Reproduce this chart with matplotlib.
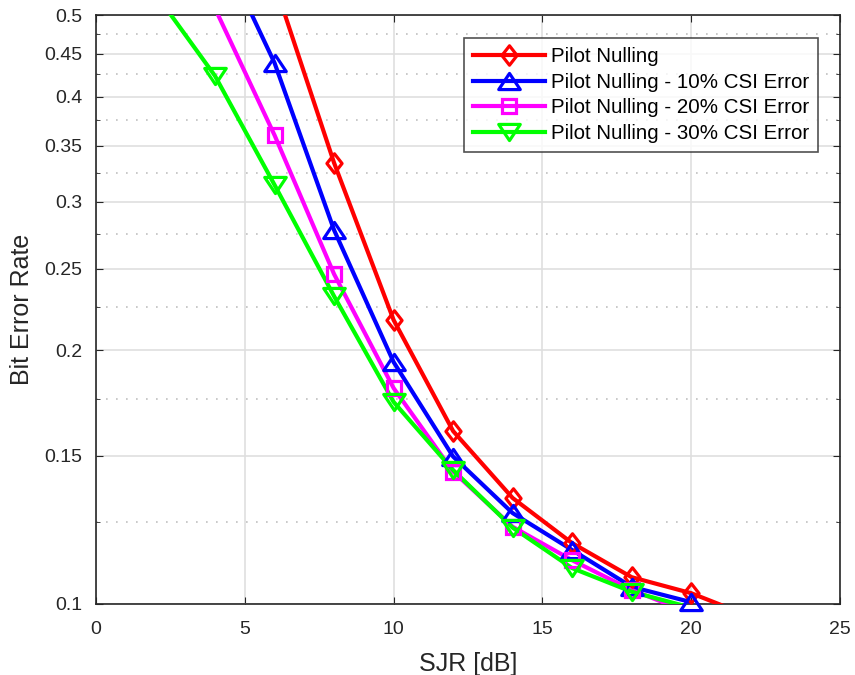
import matplotlib
matplotlib.use("Agg")
import matplotlib.pyplot as plt
from matplotlib.lines import Line2D
from matplotlib.path import Path
from matplotlib.ticker import FixedLocator, FixedFormatter, NullFormatter

plt.rcParams['font.family'] = ['Liberation Sans', 'DejaVu Sans']

sjr = [2, 4, 6, 8, 10, 12, 14, 16, 18, 20, 22]
ber_pn = [None, None, 0.545, 0.3338, 0.2173, 0.1604, 0.1336, 0.1181, 0.1076, 0.1030, 0.0966]
ber_10 = [None, 0.619, 0.4386, 0.2778, 0.1937, 0.1496, 0.1282, 0.1159, 0.1048, 0.1005, None]
ber_20 = [None, 0.509, 0.360, 0.2463, 0.1804, 0.1436, 0.1235, 0.1127, 0.1039, 0.0975, None]
ber_30 = [0.530, 0.4233, 0.3143, 0.2319, 0.1737, 0.1442, 0.1232, 0.1103, 0.1034, 0.0990, None]

labels = ['Pilot Nulling', 'Pilot Nulling - 10% CSI Error',
          'Pilot Nulling - 20% CSI Error', 'Pilot Nulling - 30% CSI Error']
colors = ['#ff0000', '#0000ff', '#ff00ff', '#00ff00']
series = [ber_pn, ber_10, ber_20, ber_30]

# MATLAB-like marker shapes
diamond = Path([(0, 1), (0.78, 0), (0, -1), (-0.78, 0), (0, 1)], closed=True)
tri_up = Path([(0, 0.75), (1, -0.75), (-1, -0.75), (0, 0.75)], closed=True)
tri_down = Path([(0, -0.75), (1, 0.75), (-1, 0.75), (0, -0.75)], closed=True)
markers = [diamond, tri_up, 's', tri_down]
msizes = [14, 15.5, 9.5, 15.5]

yticks = [0.1, 0.15, 0.2, 0.25, 0.3, 0.35, 0.4, 0.45, 0.5]
yticklabels = ['0.1', '0.15', '0.2', '0.25', '0.3', '0.35', '0.4', '0.45', '0.5']
yminor = [0.125, 0.175, 0.225, 0.275, 0.325, 0.375, 0.425, 0.475]

XMIN, XMAX, YMIN, YMAX = 0, 25, 0.1, 0.5

fig = plt.figure(figsize=(8.55, 6.75), dpi=100)
ax = fig.add_axes([96 / 855, 1 - 604 / 675, (840 - 96) / 855, (604 - 15) / 675])

handles = []
for vals, lab, c, m, ms in zip(series, labels, colors, markers, msizes):
    xs = [x for x, v in zip(sjr, vals) if v is not None]
    ys = [v for v in vals if v is not None]
    ax.plot(xs, ys, color=c, linewidth=3.0, clip_on=True, zorder=3)
    # markers drawn only where the point lies inside the axes (MATLAB-like)
    mx = [x for x, y in zip(xs, ys) if XMIN <= x <= XMAX and YMIN <= y <= YMAX]
    my = [y for x, y in zip(xs, ys) if XMIN <= x <= XMAX and YMIN <= y <= YMAX]
    ax.plot(mx, my, linestyle='none', marker=m, markersize=ms, markerfacecolor='none',
            markeredgecolor=c, markeredgewidth=2.3, clip_on=False, zorder=4)
    handles.append(Line2D([], [], color=c, linewidth=3.0, marker=m, markersize=ms,
                          markerfacecolor='none', markeredgewidth=2.3))

ax.set_yscale('log')
ax.set_xlim(XMIN, XMAX)
ax.set_ylim(YMIN, YMAX)
ax.set_xticks([0, 5, 10, 15, 20, 25])
ax.yaxis.set_major_locator(FixedLocator(yticks))
ax.yaxis.set_major_formatter(FixedFormatter(yticklabels))
ax.yaxis.set_minor_locator(FixedLocator(yminor))
ax.yaxis.set_minor_formatter(NullFormatter())

ax.grid(True, which='major', color='#dfdfdf', linewidth=1.2, linestyle='-')
ax.grid(True, which='minor', axis='y', color='#c0c0c0', linewidth=1.2, linestyle=(0, (1, 5)))
ax.set_axisbelow(True)

for s in ax.spines.values():
    s.set_color('#262626')
    s.set_linewidth(1.2)
    s.set_zorder(2.5)
ax.tick_params(which='both', direction='in', top=True, right=True, colors='#262626',
               labelsize=14, labelcolor='#262626')
ax.tick_params(which='major', length=5)
ax.tick_params(which='minor', length=3)
ax.tick_params(axis='x', pad=12)
ax.tick_params(axis='y', pad=10)

ax.set_xlabel('SJR [dB]', fontsize=18, color='#262626', labelpad=10)
ax.set_ylabel('Bit Error Rate', fontsize=18, color='#262626', labelpad=7)

leg = ax.legend(handles, labels, loc='upper right', bbox_to_anchor=(0.9705, 0.961), fontsize=14.8,
                frameon=True, fancybox=False, handlelength=3.5, handletextpad=0.25,
                labelspacing=0.32, borderpad=0.45, borderaxespad=0)
leg.get_frame().set_edgecolor('#262626')
leg.get_frame().set_linewidth(1.2)
leg.set_zorder(10)

fig.savefig('out.png', dpi=100)
